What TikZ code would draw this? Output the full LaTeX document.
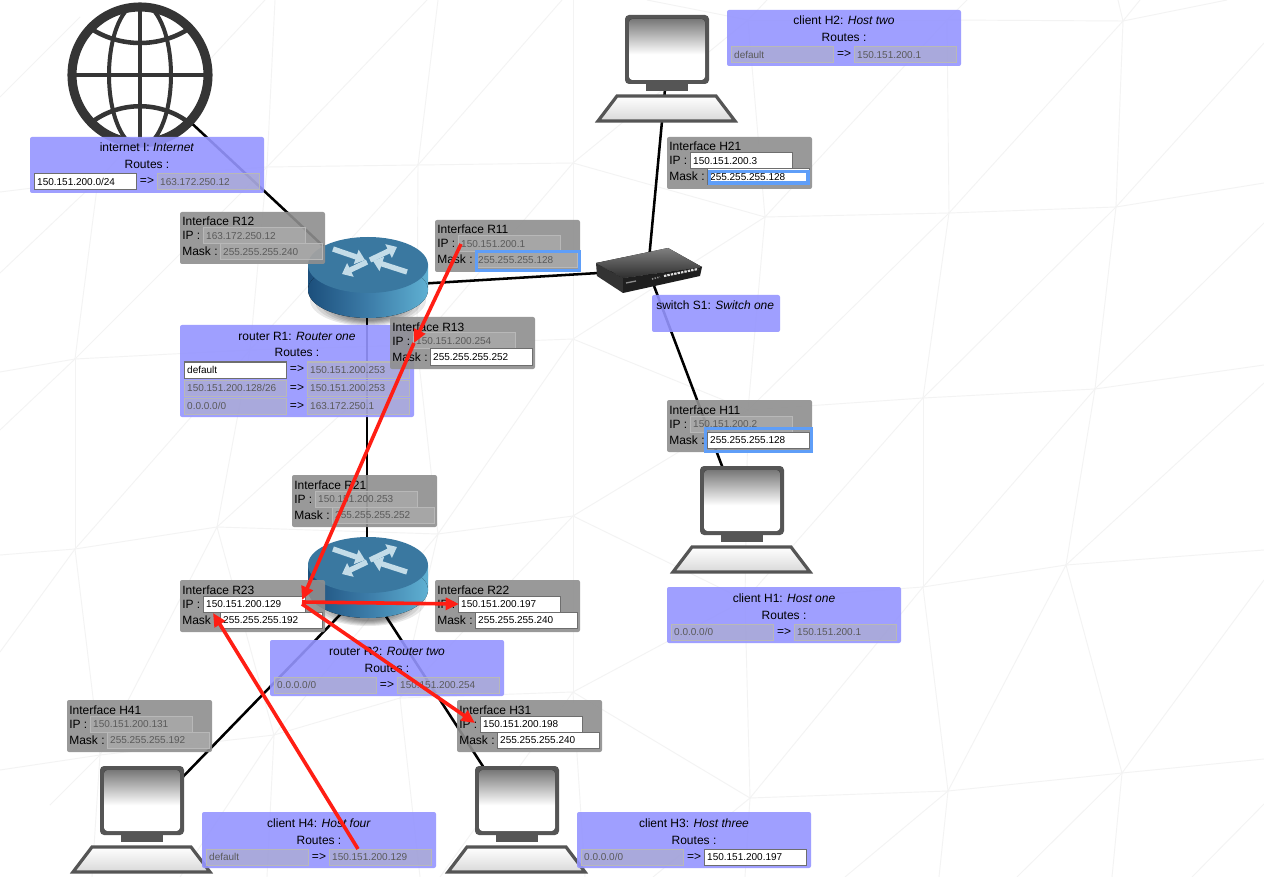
\documentclass[tikz,border=0pt]{standalone}
\usepackage{fontspec}
\setmainfont{Liberation Sans}
\usetikzlibrary{arrows.meta}
\definecolor{meshc}{HTML}{F3F3F3}
\definecolor{grayb}{HTML}{8F8F8F}
\definecolor{blueb}{HTML}{9595FF}
\definecolor{disf}{HTML}{B5B5B5}
\definecolor{disb}{HTML}{B8B8B8}
\definecolor{dist}{HTML}{5A5A5A}
\definecolor{focusc}{HTML}{5F9EF8}
\definecolor{redc}{HTML}{FF1E14}
\definecolor{globec}{HTML}{353535}
\definecolor{devc}{HTML}{555555}
\definecolor{mondark}{HTML}{787878}
\definecolor{arrowc}{HTML}{C3DCE8}
\pgfdeclareverticalshading{monshade}{100bp}{color(0bp)=(white); color(46bp)=(white); color(75bp)=(mondark); color(100bp)=(mondark)}
\tikzset{
  meshline/.style={draw=meshc,line width=0.7pt},
  wire/.style={draw=black,line width=1.9pt},
  redarrow/.style={draw=redc,line width=2.7pt,-{Triangle[length=10pt,width=9pt]}},
  graybox/.style={anchor=north west,fill=grayb,fill opacity=.9,rounded corners=1.5pt,inner sep=0,outer sep=0,minimum width=108.75pt,minimum height=39pt},
  bluebox/.style={anchor=north west,fill=blueb,fill opacity=.9,rounded corners=1.5pt,inner sep=0,outer sep=0},
  lbl/.style={anchor=base west,inner sep=0,font=\fontsize{9}{11}\selectfont},
  clbl/.style={anchor=base,inner sep=0,font=\fontsize{9}{11}\selectfont},
  fieldbase/.style={anchor=north west,inner xsep=2.4pt,inner ysep=0,outer sep=0,minimum height=12pt,text width=72.4pt,align=left,text height=5.6pt,text depth=0pt,font=\fontsize{7.5}{9}\selectfont},
  dis/.style={fieldbase,fill=disf,fill opacity=.47,draw=disb,draw opacity=1,line width=.75pt,text=dist,text opacity=1},
  act/.style={fieldbase,fill=white,draw=devc!85,line width=.75pt,text=black},
  focusring/.style={draw=focusc,line width=2.3pt},
}
\newcommand{\ifacebox}[8]{%
  \begin{scope}[shift={(#2,#3)}]
    \node[graybox] (box#1) at (0,0) {};
    \node[lbl] (t#1) at (2,14) {#4};
    \node[lbl] (il#1) at (2,28) {IP :};
    \node[lbl] (ml#1) at (2,44) {Mask :};
    \node[#5] (ip#1) at (23,16) {#6};
    \node[#7] (mask#1) at (40,32) {#8};
  \end{scope}}
\newcommand{\bluepanel}[6]{%
  \begin{scope}[shift={(#2,#3)}]
    \node[bluebox,minimum width=175.5pt,minimum height=#4] (box#1) at (0,0) {};
    \node[clbl] (t#1) at (117,15) {#5};
    \node[clbl] (r#1) at (117,32) {Routes :};
    #6
  \end{scope}}
\newcommand{\routerow}[6]{%
    \node[#2] (d#1) at (4,#6) {#3};
    \node[clbl] (a#1) at (117,#6+11) {=>};
    \node[#4] (g#1) at (127,#6) {#5};}
\newcommand{\routerdev}[2]{%
  \begin{scope}[shift={(#1,#2)}]
    \foreach \k in {0,...,5}{\fill[black,opacity=.09] (0,{63+\k}) ellipse[x radius={58-5*\k},y radius={26-2*\k}];}
    \fill[left color={rgb,255:red,28;green,79;blue,124},right color={rgb,255:red,95;green,176;blue,210},middle color={rgb,255:red,60;green,124;blue,168}] (-60,28) rectangle (60,53);
    \fill[left color={rgb,255:red,28;green,79;blue,124},right color={rgb,255:red,95;green,176;blue,210},middle color={rgb,255:red,60;green,124;blue,168}] (0,53) ellipse[x radius=60,y radius=28];
    \fill[fill={rgb,255:red,58;green,120;blue,160}] (0,28) ellipse[x radius=60,y radius=28];
    \foreach \ax/\ay/\bx/\by in {-35/12/-3/23,2/23/29/10,-1/25/-26/37,39/35/5/24}{
      \draw[arrowc,line width=4pt,-{Triangle[length=7pt,width=11pt]}] (\ax,\ay) -- (\bx,\by);}
  \end{scope}}
\newcommand{\clientdev}[2]{%
  \begin{scope}[shift={(#1,#2)}]
    \fill[devc] (-21,14) rectangle (21,23);
    \fill[devc,rounded corners=3pt] (-42,-53) rectangle (42,16);
    \fill[shading=monshade,rounded corners=2.5pt] (-38,-49) rectangle (38,12);
    \draw[devc,line width=2.4pt,line join=miter,top color=white,bottom color=black!15] (-50,28) -- (49,28) -- (68,53) -- (-69,53) -- cycle;
  \end{scope}}
\begin{document}
\begin{tikzpicture}[x=0.75pt,y=-0.75pt]
\useasboundingbox (0,0) rectangle (1264,877);
\fill[white] (0,0) rectangle (1264,877);
% background mesh
\foreach \ax/\ay/\bx/\by in {
 748/20/947/20, 947/20/1123/21, 1123/21/1227/0, 1123/21/1118/0, 1123/21/1140/0, 947/20/967/0, 947/20/949/213,
 748/20/767/0, 748/20/765/217, 647/0/748/20, 573/163/748/20, 765/217/947/20, 949/213/1123/21, 1123/21/1116/207, 1116/207/1264/43,
 98/180/0/192, 98/180/0/273, 98/180/265/0, 98/180/267/167, 98/180/75/359, 0/97/80/17,
 267/167/275/0, 267/167/427/0, 267/167/418/165, 267/167/250/350, 267/167/75/359,
 418/165/438/0, 418/165/562/0, 418/165/573/163, 418/165/250/350, 418/165/417/345,
 573/163/573/0, 573/163/417/345, 573/163/573/339, 573/163/765/217,
 765/217/949/213, 949/213/1116/207, 1116/207/1264/183, 765/217/573/339, 765/217/748/410,
 748/410/949/213, 949/213/923/398, 923/398/1116/207, 1116/207/1095/389, 1095/389/1264/223,
 748/410/923/398, 923/398/1095/389, 1095/389/1264/365,
 75/359/0/372, 75/359/0/430, 75/359/250/350, 75/359/75/549, 75/549/250/350, 250/350/417/345, 250/350/217/527,
 417/345/573/339, 417/345/217/527, 417/345/438/534, 573/339/438/534, 573/339/573/516, 573/339/748/410,
 75/549/0/555, 75/549/0/652, 75/549/217/527, 75/549/100/755, 217/527/438/534, 217/527/274/735, 217/527/100/755,
 438/534/573/516, 438/534/400/698, 438/534/274/735, 573/516/400/698, 573/516/573/692, 573/516/748/410, 573/516/745/600,
 748/410/745/600, 745/600/923/398, 923/398/923/587, 745/600/923/587, 923/587/1095/389, 923/587/1066/565, 1066/565/1095/389, 1066/565/1264/383, 1066/565/1264/550,
 923/587/948/791, 948/791/1066/565, 1066/565/1122/773, 948/791/1122/773, 1122/773/1264/759, 1122/773/1264/580,
 745/600/750/798, 573/692/745/600, 573/692/750/798, 923/587/750/798, 750/798/948/791, 948/791/939/877, 948/791/845/877, 1122/773/1112/877, 1122/773/1017/877, 1264/804/1192/877,
 750/798/653/877, 750/798/745/877, 573/692/400/698, 573/692/440/877, 573/692/585/877, 400/698/420/877, 400/698/274/735, 274/735/100/755, 274/735/267/877, 274/735/180/877,
 100/755/0/770, 100/755/50/805, 100/755/92/877}{
  \draw[meshline] (\ax,\ay) -- (\bx,\by);}
% device centres
\coordinate (I) at (140,75);
\coordinate (R1) at (367,287);
\coordinate (R2) at (367,587);
\coordinate (S1) at (648,270);
\coordinate (H1) at (742,519);
\coordinate (H2) at (667,68);
\coordinate (H3) at (517,819);
\coordinate (H4) at (142,819);
% connectors
\draw[wire] (I) -- (R1);
\draw[wire] (R1) -- (S1);
\draw[wire] (R1) -- (R2);
\draw[wire] (S1) -- (H1);
\draw[wire] (S1) -- (H2);
\draw[wire] (R2) -- (H3);
\draw[wire] (R2) -- (H4);
% globe
\fill[white] (140,75) circle[radius=68];
\begin{scope}
  \clip (140,75) circle[radius=70];
  \draw[globec,line width=3pt] (140,75) ellipse[x radius=31,y radius=72];
  \draw[globec,line width=3.4pt] (140,3) -- (140,147);
  \draw[globec,line width=3.4pt] (68,75) -- (212,75);
  \draw[globec,line width=3.4pt] (90,28) .. controls (120,48) and (160,48) .. (190,28);
  \draw[globec,line width=3.4pt] (92,122) .. controls (120,101) and (160,101) .. (188,122);
\end{scope}
\draw[globec,line width=6.8pt] (140,75) circle[radius=68];
% routers
\routerdev{368}{237}
\routerdev{368}{537}
% switch
\fill[black!80] (596,263) -- (623,278) -- (623,293) -- (597,276) -- cycle;
\fill[black!88] (623,278) -- (702,267) -- (700,276) -- (623,293) -- cycle;
\fill[top color=black!50,bottom color=black!82] (596,263) -- (668,248) -- (702,267) -- (623,278) -- cycle;
\draw[black!12,line width=1.6pt,dash pattern=on 1.8pt off .8pt] (664,276) -- (698,269);
\draw[black!45,line width=1.2pt,dash pattern=on 1pt off 1pt] (652,279) -- (660,277);
\draw[black!45,line width=1pt] (626,283) -- (636,281);
% clients
\clientdev{667}{68}
\clientdev{742}{519}
\clientdev{517}{819}
\clientdev{142}{819}
% route panels
\bluepanel{I}{30}{137}{42pt}{internet I: \textit{Internet}}{\routerow{I1}{act}{150.151.200.0/24}{dis}{163.172.250.12}{37}}
\bluepanel{RI}{180}{325}{69pt}{router R1: \textit{Router one}}{%
  \routerow{R1a}{act}{default}{dis}{150.151.200.253}{37}%
  \routerow{R1b}{dis}{150.151.200.128/26}{dis}{150.151.200.253}{55}%
  \routerow{R1c}{dis}{0.0.0.0/0}{dis}{163.172.250.1}{73}}
\bluepanel{RII}{270}{640}{42pt}{router R2: \textit{Router two}}{\routerow{R2a}{dis}{0.0.0.0/0}{dis}{150.151.200.254}{37}}
\bluepanel{HI}{667}{587}{42pt}{client H1: \textit{Host one}}{\routerow{H1a}{dis}{0.0.0.0/0}{dis}{150.151.200.1}{37}}
\bluepanel{HII}{727}{10}{42pt}{client H2: \textit{Host two}}{\routerow{H2a}{dis}{default}{dis}{150.151.200.1}{37}}
\bluepanel{HIII}{577}{812}{42pt}{client H3: \textit{Host three}}{\routerow{H3a}{dis}{0.0.0.0/0}{act}{150.151.200.197}{37}}
\bluepanel{HIV}{202}{812}{42pt}{client H4: \textit{Host four}}{\routerow{H4a}{dis}{default}{dis}{150.151.200.129}{37}}
\node[bluebox,minimum width=96pt,minimum height=27.75pt] (boxS) at (652,295) {};
\node[lbl] (tS) at (656,310) {switch S1: \textit{Switch one}};
% interface panels
\ifacebox{R12}{180}{212}{Interface R12}{dis}{163.172.250.12}{dis}{255.255.255.240}
\ifacebox{R11}{435}{220}{Interface R11}{dis}{150.151.200.1}{dis}{255.255.255.128}
\draw[focusring] (476.5,251.5) rectangle (579.5,270.5);
\ifacebox{R13}{390}{317}{Interface R13}{dis}{150.151.200.254}{act}{255.255.255.252}
\ifacebox{R21}{292}{475}{Interface R21}{dis}{150.151.200.253}{dis}{255.255.255.252}
\ifacebox{R23}{180}{580}{Interface R23}{act}{150.151.200.129}{act}{255.255.255.192}
\ifacebox{R22}{435}{580}{Interface R22}{act}{150.151.200.197}{act}{255.255.255.240}
\ifacebox{H31}{457}{700}{Interface H31}{act}{150.151.200.198}{act}{255.255.255.240}
\ifacebox{H21}{667}{137}{Interface H21}{act}{150.151.200.3}{act}{255.255.255.128}
\draw[focusring] (709.5,171.5) rectangle (808,183);
\ifacebox{H11}{667}{400}{Interface H11}{dis}{150.151.200.2}{act}{255.255.255.128}
\draw[focusring] (705.5,428.5) rectangle (811.5,451.5);
\ifacebox{H41}{67}{700}{Interface H41}{dis}{150.151.200.131}{dis}{255.255.255.192}
% red trace
\coordinate (ra) at (461,244);
\coordinate (rb) at (414,343);
\coordinate (rc) at (302,600);
\coordinate (rd) at (459,604);
\coordinate (re) at (475,723);
\coordinate (rf) at (358,849);
\coordinate (rg) at (213,613);
\coordinate (rc1) at (302,602);
\coordinate (rc2) at (302,604);
\draw[redarrow] (ra) -- (rb);
\draw[redarrow] (rb) -- (rc);
\draw[redarrow] (rc1) -- (rd);
\draw[redarrow] (rc2) -- (re);
\draw[redarrow] (rf) -- (rg);
\end{tikzpicture}
\end{document}
